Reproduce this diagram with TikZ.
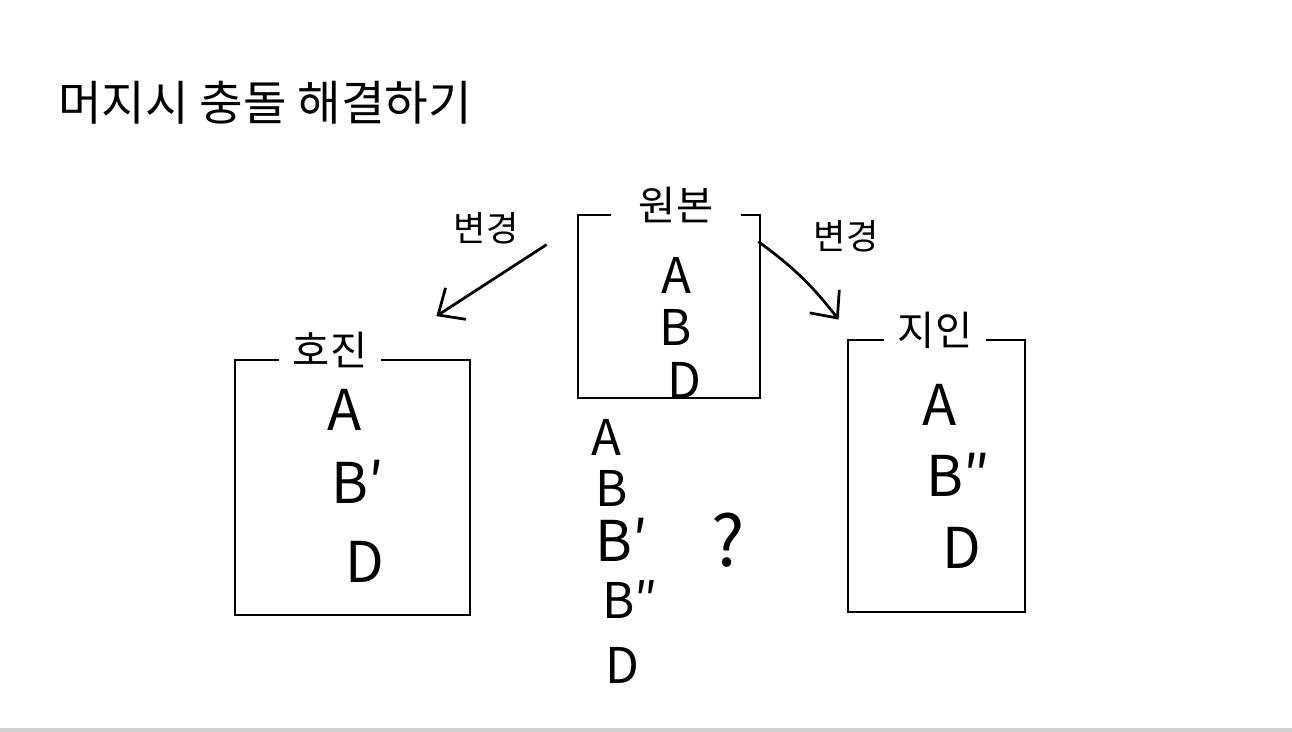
\documentclass[tikz,border=0pt]{standalone}
\usepackage{fontspec}
\setmainfont{Noto Sans CJK KR}
\usetikzlibrary{arrows.meta,positioning,fit}
\definecolor{ink}{HTML}{000000}
\definecolor{rulegray}{HTML}{D0D0D0}
\tikzset{
  sketchbox/.style={draw=ink, line width=0.055cm, inner sep=0pt},
  tag/.style={fill=white, inner xsep=8pt, inner ysep=1pt, font=\fontsize{23}{26}\selectfont},
  item/.style={font=\fontsize{28}{30}\selectfont, inner sep=1pt},
  bigitem/.style={font=\fontsize{32}{34}\selectfont, inner sep=1pt},
  note/.style={font=\fontsize{20}{22}\selectfont, inner sep=1pt},
  ar/.style={-{Straight Barb[length=0.42cm,width=0.75cm,line width=0.055cm]}, line width=0.055cm, draw=ink}
}
\begin{document}
\begin{tikzpicture}[x=0.02cm,y=-0.02cm]
  \useasboundingbox (0,0) rectangle (1292,732);
  \fill[rulegray] (0,728) rectangle (1292,732);
  \node[anchor=west, font=\fontsize{27}{30}\selectfont] (title) at (52,103) {머지시 충돌 해결하기};
  % the three versions
  \node[sketchbox, fit={(578,215) (760,398)}] (orig) {};
  \node[sketchbox, fit={(235,360) (470,615)}] (hojin) {};
  \node[sketchbox, fit={(848,340) (1025,612)}] (jiin) {};
  \node[tag, inner xsep=16pt] (origtag) at (676,205) {원본};
  \node[tag] (hojintag) at (330,350) {호진};
  \node[tag] (jiintag) at (935,330) {지인};
  \node[item] (oa) at (676,275) {A};
  \node[item] (ob) at (676,327) {B};
  \node[item] (od) at (684,380) {D};
  \node[bigitem] (ha) at (345,410) {A};
  \node[bigitem] (hb) at (358,482) {B′};
  \node[bigitem] (hd) at (365,562) {D};
  \node[bigitem] (ja) at (940,405) {A};
  \node[bigitem] (jb) at (958,475) {B″};
  \node[bigitem] (jd) at (962,548) {D};
  % changes
  \draw[ar] ([xshift=-0.6cm,yshift=-0.62cm]orig.north west) -- ([xshift=-0.7cm,yshift=0.85cm]hojin.north east);
  \draw[ar] ([xshift=-0.06cm,yshift=-0.56cm]orig.north east) to[bend left=8] ([xshift=-0.16cm,yshift=0.38cm]jiin.north west);
  \node[note] (chgl) at (486,228) {변경};
  \node[note] (chgr) at (846,236) {변경};
  % merged result
  \node[item] (ma) at (606,437) {A};
  \node[item] (mb) at (612,488) {B};
  \node[bigitem] (mb1) at (622,540) {B′};
  \node[item] (mb2) at (630,600) {B″};
  \node[item] (md) at (622,665) {D};
  \node[font=\fontsize{40}{42}\selectfont] (what) at (728,540) {?};
\end{tikzpicture}
\end{document}
